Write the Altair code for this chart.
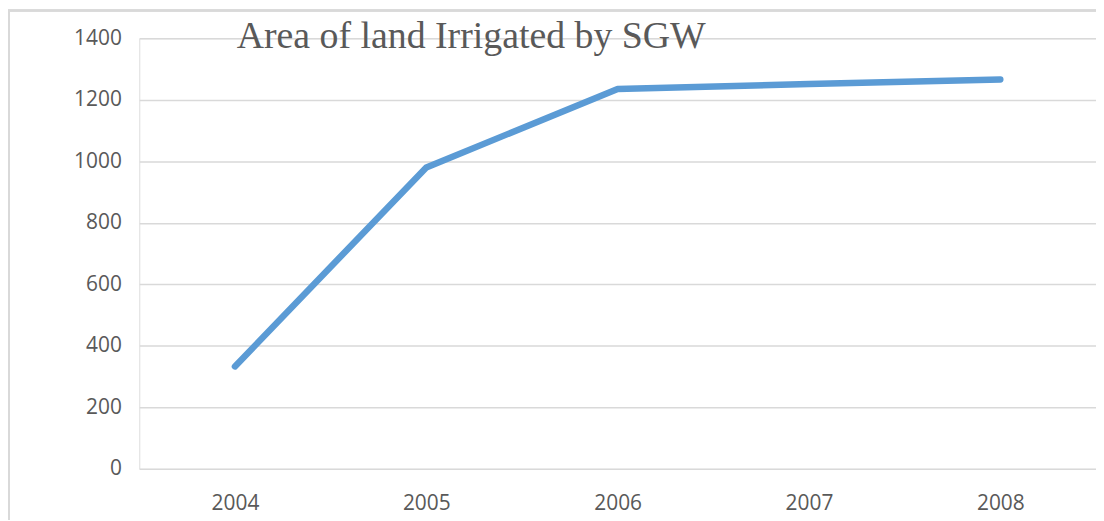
import altair as alt
import pandas as pd

years = ["2004", "2005", "2006", "2007", "2008"]
area = [333, 980, 1235, 1251, 1266]
y_ticks = [0, 200, 400, 600, 800, 1000, 1200, 1400]
title_text = "Area of land Irrigated by SGW"

df = pd.DataFrame({"year": years, "area": area})

W, H = 962, 433

line = alt.Chart(df).mark_line(
    color="#5b9bd5", strokeWidth=6.5, strokeCap="round", strokeJoin="round"
).encode(
    x=alt.X("year:N", sort=years,
            scale=alt.Scale(paddingInner=0, paddingOuter=0),
            axis=alt.Axis(title=None, labelAngle=0, domain=False, ticks=False,
                          grid=False, labelPadding=24, labelFont="Open Sans",
                          labelFontSize=21, labelColor="#595959")),
    y=alt.Y("area:Q", scale=alt.Scale(domain=[0, 1400], nice=False),
            axis=alt.Axis(title=None, values=y_ticks, format="d", domain=False,
                          ticks=False, grid=True, gridColor="#d9d9d9",
                          gridWidth=1.5, labelPadding=18, labelFont="Open Sans",
                          labelFontSize=21, labelColor="#595959")),
)

border = alt.Chart(df).mark_rect(
    filled=False, stroke="#d9d9d9", strokeWidth=2, fill=None
).encode(
    x=alt.value(-131), x2=alt.value(1100),
    y=alt.value(-28), y2=alt.value(700),
)

title = alt.Chart(pd.DataFrame({"t": [title_text]})).mark_text(
    align="left", baseline="alphabetic", font="Liberation Serif",
    fontSize=38, color="#595959",
).encode(
    text="t:N", x=alt.value(98), y=alt.value(10),
)

chart = alt.layer(border, line, title).properties(
    width=W, height=H,
    autosize=alt.AutoSizeParams(type="none"),
    padding={"left": 132, "top": 29, "right": 0, "bottom": 50},
).configure_view(stroke=None).configure(background="white")

chart.save("out.html", embed_options={"renderer": "svg", "actions": False})
